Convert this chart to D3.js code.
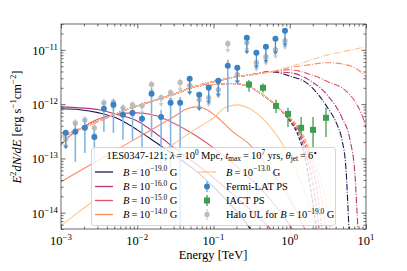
<!DOCTYPE html>
<html>
<head>
<meta charset="utf-8">
<script src="https://cdn.jsdelivr.net/npm/d3@7"></script>
<style>
  body { margin: 0; background: #fff; }
  svg text { font-family: "Liberation Serif", "Times New Roman", serif; fill: #000; }
</style>
</head>
<body>
<svg id="chart" width="407" height="271" font-family="Liberation Serif, Times New Roman, serif"></svg>
<script>
// ---- data (E in TeV, E^2 dN/dE in erg s^-1 cm^-2) ----

// cascade (halo) spectra, solid lines
const haloB19 = [[1e-3, 8.2e-13], [1.778e-3, 7.9e-13], [3.162e-3, 6.9e-13], [5.62e-3, 5.4e-13], [0.01, 3.36e-13], [0.01778, 1.94e-13], [0.03162, 1.11e-13], [0.0562, 6.2e-14], [0.1, 3.0e-14], [0.1778, 1.28e-14], [0.237, 8.0e-15], [0.316, 4.4e-15], [0.384, 2.05e-15]];
const haloB16 = [[1e-3, 8.9e-13], [1.778e-3, 8.55e-13], [3.162e-3, 7.9e-13], [5.62e-3, 6.4e-13], [0.01, 4.9e-13], [0.01778, 2.84e-13], [0.03162, 1.5e-13], [0.0562, 8.3e-14], [0.1, 4.4e-14], [0.1778, 2.2e-14], [0.3162, 1.08e-14], [0.5623, 5.0e-15], [0.75, 3.1e-15]];
const haloB15 = [[1e-3, 1.78e-13], [1.31e-3, 2.61e-13], [1.778e-3, 3.5e-13], [3.162e-3, 5.4e-13], [5.62e-3, 6.6e-13], [0.01, 6.9e-13], [0.01778, 6.1e-13], [0.03162, 4.3e-13], [0.0562, 2.72e-13], [0.1, 1.56e-13], [0.1778, 8.3e-14], [0.3162, 4.0e-14], [0.5623, 1.72e-14], [1.0, 5.9e-15], [1.334, 3.1e-15]];
const haloB14 = [[1e-3, 3.7e-14], [1.778e-3, 5.9e-14], [3.162e-3, 9.4e-14], [5.62e-3, 1.5e-13], [0.01, 2.39e-13], [0.01778, 3.8e-13], [0.03162, 6.1e-13], [0.0449, 8.2e-13], [0.0608, 8.9e-13], [0.0822, 7.9e-13], [0.111, 5.8e-13], [0.180, 3.09e-13], [0.301, 1.78e-13], [0.551, 6.2e-14], [1.017, 1.72e-14], [1.585, 5.0e-15], [1.96, 3.1e-15]];
const haloB13 = [[1e-3, 5.7e-15], [1.778e-3, 1.08e-14], [3.162e-3, 1.95e-14], [5.62e-3, 3.5e-14], [0.01, 6.2e-14], [0.01778, 1.11e-13], [0.03162, 1.94e-13], [0.0562, 3.36e-13], [0.1, 5.6e-13], [0.1416, 8.55e-13], [0.203, 9.7e-13], [0.301, 8.2e-13], [0.473, 4.9e-13], [0.681, 2.61e-13], [1.017, 1.02e-13], [1.585, 2.4e-14], [2.14, 5.9e-15], [2.49, 3.1e-15]];

// low-energy part shared by all total spectra
const totalShared = [[1e-3, 2.49e-13], [1.778e-3, 3.5e-13], [3.162e-3, 4.9e-13], [5.62e-3, 6.9e-13], [0.01, 9.3e-13], [0.01778, 1.2e-12], [0.03162, 1.55e-12], [0.0562, 2.1e-12]];

// dash-dot (upper) spectra above 0.1 TeV
const upperShared = [[0.1, 2.6e-12], [0.1778, 3.1e-12], [0.3162, 3.5e-12], [0.5623, 3.95e-12]];
const upperB19 = [[1.0, 3.3e-12], [1.778, 2.3e-12], [3.08, 8.9e-13], [4.17, 4.2e-13], [4.84, 2.2e-13], [5.47, 6.2e-14], [5.98, 5.0e-15], [6.17, 2.05e-15]];
const upperB16 = [[1.0, 3.8e-12], [1.778, 2.8e-12], [3.162, 1.43e-12], [4.84, 5.6e-13], [6.17, 2.2e-13], [7.17, 5.0e-14], [7.86, 5.0e-15], [8.34, 2.05e-15]];
const upperB15 = [[1.0, 4.3e-12], [1.778, 3.6e-12], [3.162, 2.6e-12], [5.623, 1.69e-12], [7.5, 1.01e-12], [9.14, 5.6e-13], [10, 3.66e-13]];
const upperB14 = [[1.0, 4.7e-12], [1.778, 5.3e-12], [3.162, 5.8e-12], [5.623, 5.3e-12], [7.5, 4.5e-12], [10, 3.2e-12]];
const upperB13 = [[1.0, 4.9e-12], [1.778, 6.3e-12], [3.162, 8.1e-12], [5.623, 9.6e-12], [10, 1.14e-11]];

// dashed (absorbed) spectra above 0.1 TeV
const lowerShared = [[0.1, 2.3e-12], [0.1778, 2.4e-12], [0.3162, 2.0e-12], [0.42, 1.55e-12], [0.5623, 1.15e-12], [0.75, 7.9e-13]];
const lowerB19 = [[1.0, 4.9e-13], [1.28, 2.72e-13], [1.585, 1.02e-13], [1.84, 3.25e-14], [2.21, 5.0e-15], [2.35, 2.05e-15]];
const lowerB16 = [[1.0, 5.1e-13], [1.36, 2.61e-13], [1.68, 1.02e-13], [2.02, 3.25e-14], [2.42, 5.0e-15], [2.6, 2.05e-15]];
const lowerB15 = [[1.0, 5.4e-13], [1.41, 2.72e-13], [1.79, 1.02e-13], [2.21, 3.25e-14], [2.65, 5.0e-15], [2.85, 2.05e-15]];
const lowerB14 = [[1.0, 5.6e-13], [1.45, 2.84e-13], [1.90, 1.02e-13], [2.42, 3.25e-14], [2.99, 5.0e-15], [3.2, 2.05e-15]];
const lowerB13 = [[1.0, 5.8e-13], [1.49, 2.84e-13], [2.02, 1.02e-13], [2.65, 3.25e-14], [3.37, 5.0e-15], [3.6, 2.05e-15]];

// Fermi-LAT point source
const fermiE = [1.155e-3, 1.540e-3, 2.054e-3, 2.738e-3, 3.652e-3, 4.870e-3, 6.494e-3, 8.660e-3, 0.01155, 0.0154, 0.02054, 0.02738, 0.03652, 0.0487, 0.06494, 0.0866, 0.1155, 0.154, 0.2054, 0.2738, 0.3652, 0.487, 0.6494, 0.866];
const fermiF = [2.96e-13, 3.09e-13, 3.66e-13, 2.49e-13, 8.2e-13, 9.7e-13, 6.4e-13, 6.9e-13, 5.4e-13, 1.55e-12, 5.8e-13, 1.06e-12, 1.06e-12, 2.94e-12, 1.49e-12, 2.0e-12, 2.7e-12, 5.1e-12, 4.7e-12, 1.67e-11, 8.9e-12, 1.14e-11, 1.61e-11, 2.25e-11];
const fermiLo = [null, 8.6e-14, 1.26e-13, 8.3e-14, 3.09e-13, 2.96e-13, 2.2e-13, 2.2e-13, 1.26e-13, 2.49e-13, 7.6e-14, 5.0e-14, 1e-16, null, null, null, null, 7.2e-13, null, null, null, null, null, null];
const fermiHi = [null, 4.5e-13, 5.4e-13, 3.4e-13, 1.1e-12, 1.2e-12, 8.55e-13, 8.9e-13, 7.2e-13, 2.0e-12, 7.9e-13, 1.31e-12, 1.36e-12, null, null, null, null, 6.6e-12, null, null, null, null, null, null];

// halo upper limits for B = 1e-19 G
const haloUL = [2.3e-13, 4.5e-13, 5.1e-13, 3.66e-13, 1.06e-12, 1.1e-12, 8.55e-13, 9.7e-13, 9.3e-13, 2.3e-12, 1.31e-12, 1.62e-12, 2.5e-12, 2.2e-12, 1.2e-12, 1.31e-12, 1.84e-12, 1.3e-11, 3.5e-12, 1.36e-11, 5.8e-12, 7.5e-12, 1.01e-11, 1.48e-11];

// IACT point source
const iactE = [0.292, 0.446, 0.661, 0.948, 1.41, 2.02, 2.99];
const iactF = [2.3e-12, 2.0e-12, 9.3e-13, 6.6e-13, 3.66e-13, 3.36e-13, 5.6e-13];
const iactLo = [1.69e-12, 1.62e-12, 6.9e-13, 3.8e-13, 2.2e-13, 1.63e-13, 2.49e-13];
const iactHi = [2.8e-12, 2.4e-12, 1.2e-12, 8.55e-13, 5.8e-13, 5.8e-13, 8.55e-13];

const bExps = ["\u221219.0", "\u221216.0", "\u221215.0", "\u221214.0", "\u221213.0"];
const bColors = ["#241452", "#b5367a", "#e55366", "#fb8a62", "#fec68c"];

// ---- chart ----
const svg = d3.select("#chart");
const plot = { left: 61, right: 366, top: 24, bottom: 229 };

const x = d3.scaleLog().domain([1e-3, 10]).range([plot.left, plot.right]);
const y = d3.scaleLog().domain([5e-15, 3e-11]).range([plot.bottom, plot.top]);

svg.append("defs").append("clipPath").attr("id", "clip")
  .append("rect")
  .attr("x", plot.left).attr("y", plot.top)
  .attr("width", plot.right - plot.left).attr("height", plot.bottom - plot.top);

// text with super/subscripts
function rich(t, parts, fs) {
  let shift = 0;
  parts.forEach(([s, kind]) => {
    const target = kind === "sup" ? -0.4 * fs : kind === "sub" ? 0.22 * fs : 0;
    const ts = t.append("tspan").text(s).attr("dy", target - shift);
    shift = target;
    if (kind === "sup" || kind === "sub") ts.attr("font-size", fs * 0.7);
    if (kind === "it") ts.attr("font-style", "italic");
  });
  return t;
}

const line = d3.line()
  .x((d) => x(d[0]))
  .y((d) => y(d[1]))
  .curve(d3.curveMonotoneX);

const halos = [haloB19, haloB16, haloB15, haloB14, haloB13];
const uppers = [upperB19, upperB16, upperB15, upperB14, upperB13];
const lowers = [lowerB19, lowerB16, lowerB15, lowerB14, lowerB13];

const curveG = svg.append("g").attr("clip-path", "url(#clip)").attr("fill", "none");
halos.forEach((h, i) => {
  curveG.append("path").attr("d", line(h))
    .attr("stroke", bColors[i]).attr("stroke-width", 1.1);
  curveG.append("path").attr("d", line(totalShared.concat(lowerShared, lowers[i])))
    .attr("stroke", bColors[i]).attr("stroke-width", 1.1)
    .attr("stroke-dasharray", "3.7,1.6");
  curveG.append("path").attr("d", line(totalShared.concat(upperShared, uppers[i])))
    .attr("stroke", bColors[i]).attr("stroke-width", 1.1)
    .attr("stroke-dasharray", "6.4,1.6,1,1.6");
});

// arrow for an upper limit, pointing down
function ulArrow(g, e, f, color, frac) {
  const x0 = x(e), y0 = y(f), y1 = y(f * frac);
  g.append("line").attr("x1", x0).attr("x2", x0).attr("y1", y0).attr("y2", y1 - 2)
    .attr("stroke", color).attr("stroke-width", 1.3);
  g.append("path")
    .attr("d", `M${x0 - 2.6},${y1 - 3.5}L${x0 + 2.6},${y1 - 3.5}L${x0},${y1}Z`)
    .attr("fill", color);
}

const dataG = svg.append("g").attr("clip-path", "url(#clip)");

// halo ULs (grey)
fermiE.forEach((e, i) => {
  const f = haloUL[i];
  dataG.append("line").attr("x1", x(e)).attr("x2", x(e))
    .attr("y1", y(f * 1.18)).attr("y2", y(f))
    .attr("stroke", "#d4d4d4").attr("stroke-width", 1.3);
  ulArrow(dataG, e, f, "#cacaca", 0.68);
  dataG.append("circle").attr("cx", x(e)).attr("cy", y(f)).attr("r", 2.7).attr("fill", "#bdbdbd");
});

// Fermi-LAT
fermiE.forEach((e, i) => {
  const f = fermiF[i];
  if (fermiLo[i] == null) {
    ulArrow(dataG, e, f, "#4a8dcc", 0.5);
  } else {
    dataG.append("line").attr("x1", x(e)).attr("x2", x(e))
      .attr("y1", y(fermiHi[i])).attr("y2", y(fermiLo[i]))
      .attr("stroke", "#84b5e0").attr("stroke-width", 1.6);
  }
  dataG.append("circle").attr("cx", x(e)).attr("cy", y(f)).attr("r", 3).attr("fill", "#3b82c4");
});

// IACT
iactE.forEach((e, i) => {
  dataG.append("line").attr("x1", x(e)).attr("x2", x(e))
    .attr("y1", y(iactHi[i])).attr("y2", y(iactLo[i]))
    .attr("stroke", "#4ea65d").attr("stroke-width", 1.4);
  dataG.append("rect").attr("x", x(e) - 3).attr("y", y(iactF[i]) - 3)
    .attr("width", 6).attr("height", 6).attr("fill", "#3f9c50");
});

// ---- axes: inward ticks on all four sides ----
const majX = [1e-3, 1e-2, 1e-1, 1, 10];
const minX = [];
[-3, -2, -1, 0].forEach((d) => { for (let m = 2; m <= 9; m++) minX.push(m * Math.pow(10, d)); });
const majY = [1e-14, 1e-13, 1e-12, 1e-11];
const minY = [];
[-15, -14, -13, -12, -11].forEach((d) => {
  for (let m = 2; m <= 9; m++) {
    const v = m * Math.pow(10, d);
    if (v >= 5e-15 && v <= 3e-11) minY.push(v);
  }
});

function ticks(axis, tr, vals, size) {
  svg.append("g").attr("transform", tr).attr("color", "#444")
    .call(axis.tickValues(vals).tickSize(-size).tickFormat(""))
    .call((g) => g.select(".domain").remove())
    .selectAll("line").attr("stroke-width", 0.8);
}
ticks(d3.axisBottom(x), `translate(0,${plot.bottom})`, majX, 4.5);
ticks(d3.axisBottom(x), `translate(0,${plot.bottom})`, minX, 2.5);
ticks(d3.axisTop(x), `translate(0,${plot.top})`, majX, 4.5);
ticks(d3.axisTop(x), `translate(0,${plot.top})`, minX, 2.5);
ticks(d3.axisLeft(y), `translate(${plot.left},0)`, majY, 4.5);
ticks(d3.axisLeft(y), `translate(${plot.left},0)`, minY, 2.5);
ticks(d3.axisRight(y), `translate(${plot.right},0)`, majY, 4.5);
ticks(d3.axisRight(y), `translate(${plot.right},0)`, minY, 2.5);

svg.append("rect")
  .attr("x", plot.left).attr("y", plot.top)
  .attr("width", plot.right - plot.left).attr("height", plot.bottom - plot.top)
  .attr("fill", "none").attr("stroke", "#444").attr("stroke-width", 0.8);

const tfs = 12.5;
const xExp = ["\u22123", "\u22122", "\u22121", "0", "1"];
majX.forEach((v, i) => {
  rich(svg.append("text").attr("x", x(v)).attr("y", 245).attr("text-anchor", "middle").attr("font-size", tfs),
    [["10", ""], [xExp[i], "sup"]], tfs);
});
const yExp = ["\u221214", "\u221213", "\u221212", "\u221211"];
majY.forEach((v, i) => {
  rich(svg.append("text").attr("x", 58).attr("y", y(v) + 5).attr("text-anchor", "end").attr("font-size", tfs),
    [["10", ""], [yExp[i], "sup"]], tfs);
});

svg.append("text").attr("x", 213).attr("y", 259).attr("text-anchor", "middle")
  .attr("font-size", 12.5).text("Energy [TeV]");

rich(svg.append("text").attr("transform", "translate(21,127) rotate(-90)")
  .attr("text-anchor", "middle").attr("font-size", 12.5),
  [["E", "it"], ["2", "sup"], ["dN/dE", "it"], [" [erg s", ""], ["\u22121", "sup"], ["cm", ""], ["\u22122", "sup"], ["]", ""]], 12.5);

// ---- legend ----
const leg = svg.append("g");
const lfs = 10.5;
leg.append("rect").attr("x", 91.5).attr("y", 147.5).attr("width", 244).attr("height", 78)
  .attr("rx", 2.5).attr("fill", "#fff").attr("fill-opacity", 0.8)
  .attr("stroke", "#cccccc").attr("stroke-width", 0.8);

rich(leg.append("text").attr("x", 212).attr("y", 159).attr("text-anchor", "middle").attr("font-size", lfs),
  [["1ES0347-121; ", ""], ["\u03bb", "it"], ["\u2009=\u200910", ""], ["0", "sup"], ["\u2009Mpc, ", ""],
   ["t", "it"], ["max", "sub"], ["\u2009=\u200910", ""], ["7", "sup"], ["\u2009yrs, ", ""],
   ["\u03b8", "it"], ["jet", "sub"], ["\u2009=\u20096", ""], ["\u2218", "sup"]], lfs);

const rowsY = [172, 186.5, 200.5, 214.5];
function bLabel(xx, yy, i) {
  rich(leg.append("text").attr("x", xx).attr("y", yy + 3.5).attr("font-size", lfs),
    [["B", "it"], ["\u2009=\u200910", ""], [bExps[i], "sup"], [" G", ""]], lfs);
}
[0, 1, 2, 3].forEach((i) => {
  leg.append("line").attr("x1", 95).attr("x2", 113).attr("y1", rowsY[i]).attr("y2", rowsY[i])
    .attr("stroke", bColors[i]).attr("stroke-width", 1.3);
  bLabel(123, rowsY[i], i);
});
leg.append("line").attr("x1", 198).attr("x2", 216).attr("y1", rowsY[0]).attr("y2", rowsY[0])
  .attr("stroke", bColors[4]).attr("stroke-width", 1.3);
bLabel(226, rowsY[0], 4);

const mx = 207;
leg.append("line").attr("x1", mx).attr("x2", mx).attr("y1", rowsY[1] - 5.5).attr("y2", rowsY[1] + 5.5)
  .attr("stroke", "#84b5e0").attr("stroke-width", 1.6);
leg.append("circle").attr("cx", mx).attr("cy", rowsY[1]).attr("r", 3).attr("fill", "#3b82c4");
leg.append("line").attr("x1", mx).attr("x2", mx).attr("y1", rowsY[2] - 5.5).attr("y2", rowsY[2] + 5.5)
  .attr("stroke", "#4ea65d").attr("stroke-width", 1.4);
leg.append("rect").attr("x", mx - 3).attr("y", rowsY[2] - 3).attr("width", 6).attr("height", 6).attr("fill", "#3f9c50");
leg.append("line").attr("x1", mx).attr("x2", mx).attr("y1", rowsY[3] - 5.5).attr("y2", rowsY[3] + 5.5)
  .attr("stroke", "#d4d4d4").attr("stroke-width", 1.4);
leg.append("circle").attr("cx", mx).attr("cy", rowsY[3]).attr("r", 2.7).attr("fill", "#bdbdbd");

leg.append("text").attr("x", 226).attr("y", rowsY[1] + 3.5).attr("font-size", lfs).text("Fermi-LAT PS");
leg.append("text").attr("x", 226).attr("y", rowsY[2] + 3.5).attr("font-size", lfs).text("IACT PS");
rich(leg.append("text").attr("x", 226).attr("y", rowsY[3] + 3.5).attr("font-size", lfs),
  [["Halo UL for ", ""], ["B", "it"], ["\u2009=\u200910", ""], ["\u221219.0", "sup"], [" G", ""]], lfs);
</script>
</body>
</html>
